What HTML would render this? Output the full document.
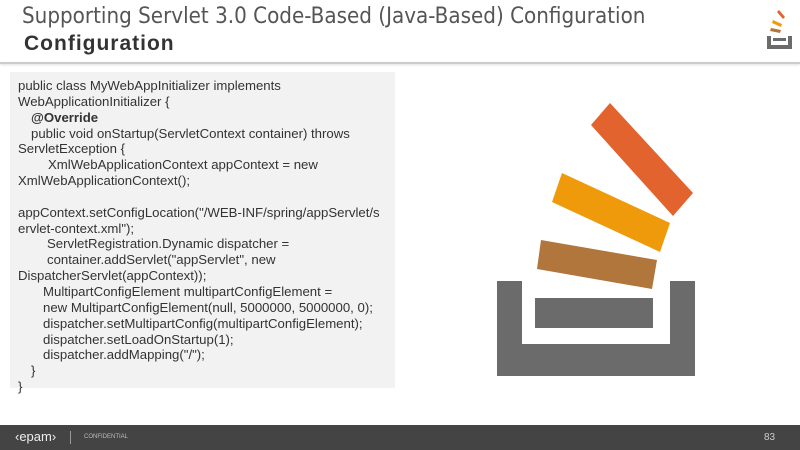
<!DOCTYPE html>
<html><head><meta charset="utf-8"><style>
body{margin:0;width:800px;height:450px;position:relative;overflow:hidden;background:#fff;font-family:"Liberation Sans",sans-serif}
.t1{position:absolute;left:22px;top:3px;font-size:22.2px;color:#555;letter-spacing:0px;font-family:"DejaVu Sans Condensed","Liberation Sans Narrow","Liberation Sans",sans-serif}
.t2{position:absolute;left:24px;top:32px;font-size:21px;font-weight:bold;color:#333;letter-spacing:1px}
.hl{position:absolute;left:0;top:62px;width:800px;height:2px;background:#ccc;box-shadow:0 1px 2px #ddd}
.code{position:absolute;left:10px;top:72px;width:385px;height:316px;background:#f2f2f2}
.lines{position:absolute;left:18px;top:78px;font-size:13.2px;line-height:15.85px;color:#333;white-space:nowrap}
.lines div{height:15.85px}
.foot{position:absolute;left:0;top:425px;width:800px;height:25px;background:#444}
</style></head><body>
<div class="t1">Supporting Servlet 3.0 Code-Based (Java-Based) Configuration</div>
<div class="t2">Configuration</div>
<svg style="position:absolute;left:762px;top:8px" width="34" height="44" viewBox="0 0 34 44">
<polygon points="17,2 23,9 21,11 15,4" fill="#e2632d"/>
<polygon points="11,12 20,16 19,19 10,15" fill="#ef9a0b"/>
<polygon points="9,20 19,22 18,25 8,23" fill="#b0763b"/>
<path d="M5,28h4v9h17v-9h4v13H5z" fill="#6b6b6b"/><rect x="11" y="30" width="13" height="3" fill="#6b6b6b"/>
</svg>
<div class="hl"></div>
<div class="code"></div>
<div class="lines">
<div>public class MyWebAppInitializer implements</div>
<div>WebApplicationInitializer {</div>
<div style="padding-left:13px;font-weight:bold">@Override</div>
<div style="padding-left:13px">public void onStartup(ServletContext container) throws</div>
<div>ServletException {</div>
<div style="padding-left:30px">XmlWebApplicationContext appContext = new</div>
<div>XmlWebApplicationContext();</div>
<div></div>
<div>appContext.setConfigLocation("/WEB-INF/spring/appServlet/s</div>
<div>ervlet-context.xml");</div>
<div style="padding-left:29px">ServletRegistration.Dynamic dispatcher =</div>
<div style="padding-left:29px">container.addServlet("appServlet", new</div>
<div>DispatcherServlet(appContext));</div>
<div style="padding-left:25px">MultipartConfigElement multipartConfigElement =</div>
<div style="padding-left:25px">new MultipartConfigElement(null, 5000000, 5000000, 0);</div>
<div style="padding-left:25px">dispatcher.setMultipartConfig(multipartConfigElement);</div>
<div style="padding-left:25px">dispatcher.setLoadOnStartup(1);</div>
<div style="padding-left:25px">dispatcher.addMapping("/");</div>
<div style="padding-left:13px">}</div>
<div>}</div>
</div>
<svg style="position:absolute;left:0;top:0" width="800" height="450">
<polygon points="610,103 693,193 673,216 591,125" fill="#e2632d"/>
<polygon points="562,173 670,223 660,252 552,202" fill="#ef9a0b"/>
<polygon points="541,240 657,260 652,289 537,269" fill="#b0763b"/>
<path d="M497,281h25v63h148v-63h25v95H497z" fill="#6b6b6b"/>
<rect x="535" y="298" width="118" height="30" fill="#6b6b6b"/>
</svg>
<div class="foot">
<div style="position:absolute;left:15px;top:4px;color:#eee;font-size:13px">‹epam›</div>
<div style="position:absolute;left:70px;top:6px;width:1px;height:13px;background:#999"></div>
<div style="position:absolute;left:84px;top:9px;color:#bbb;font-size:6px">CONFIDENTIAL</div>
<div style="position:absolute;left:764px;top:7px;color:#ccc;font-size:10px">83</div>
</div>
</body></html>
